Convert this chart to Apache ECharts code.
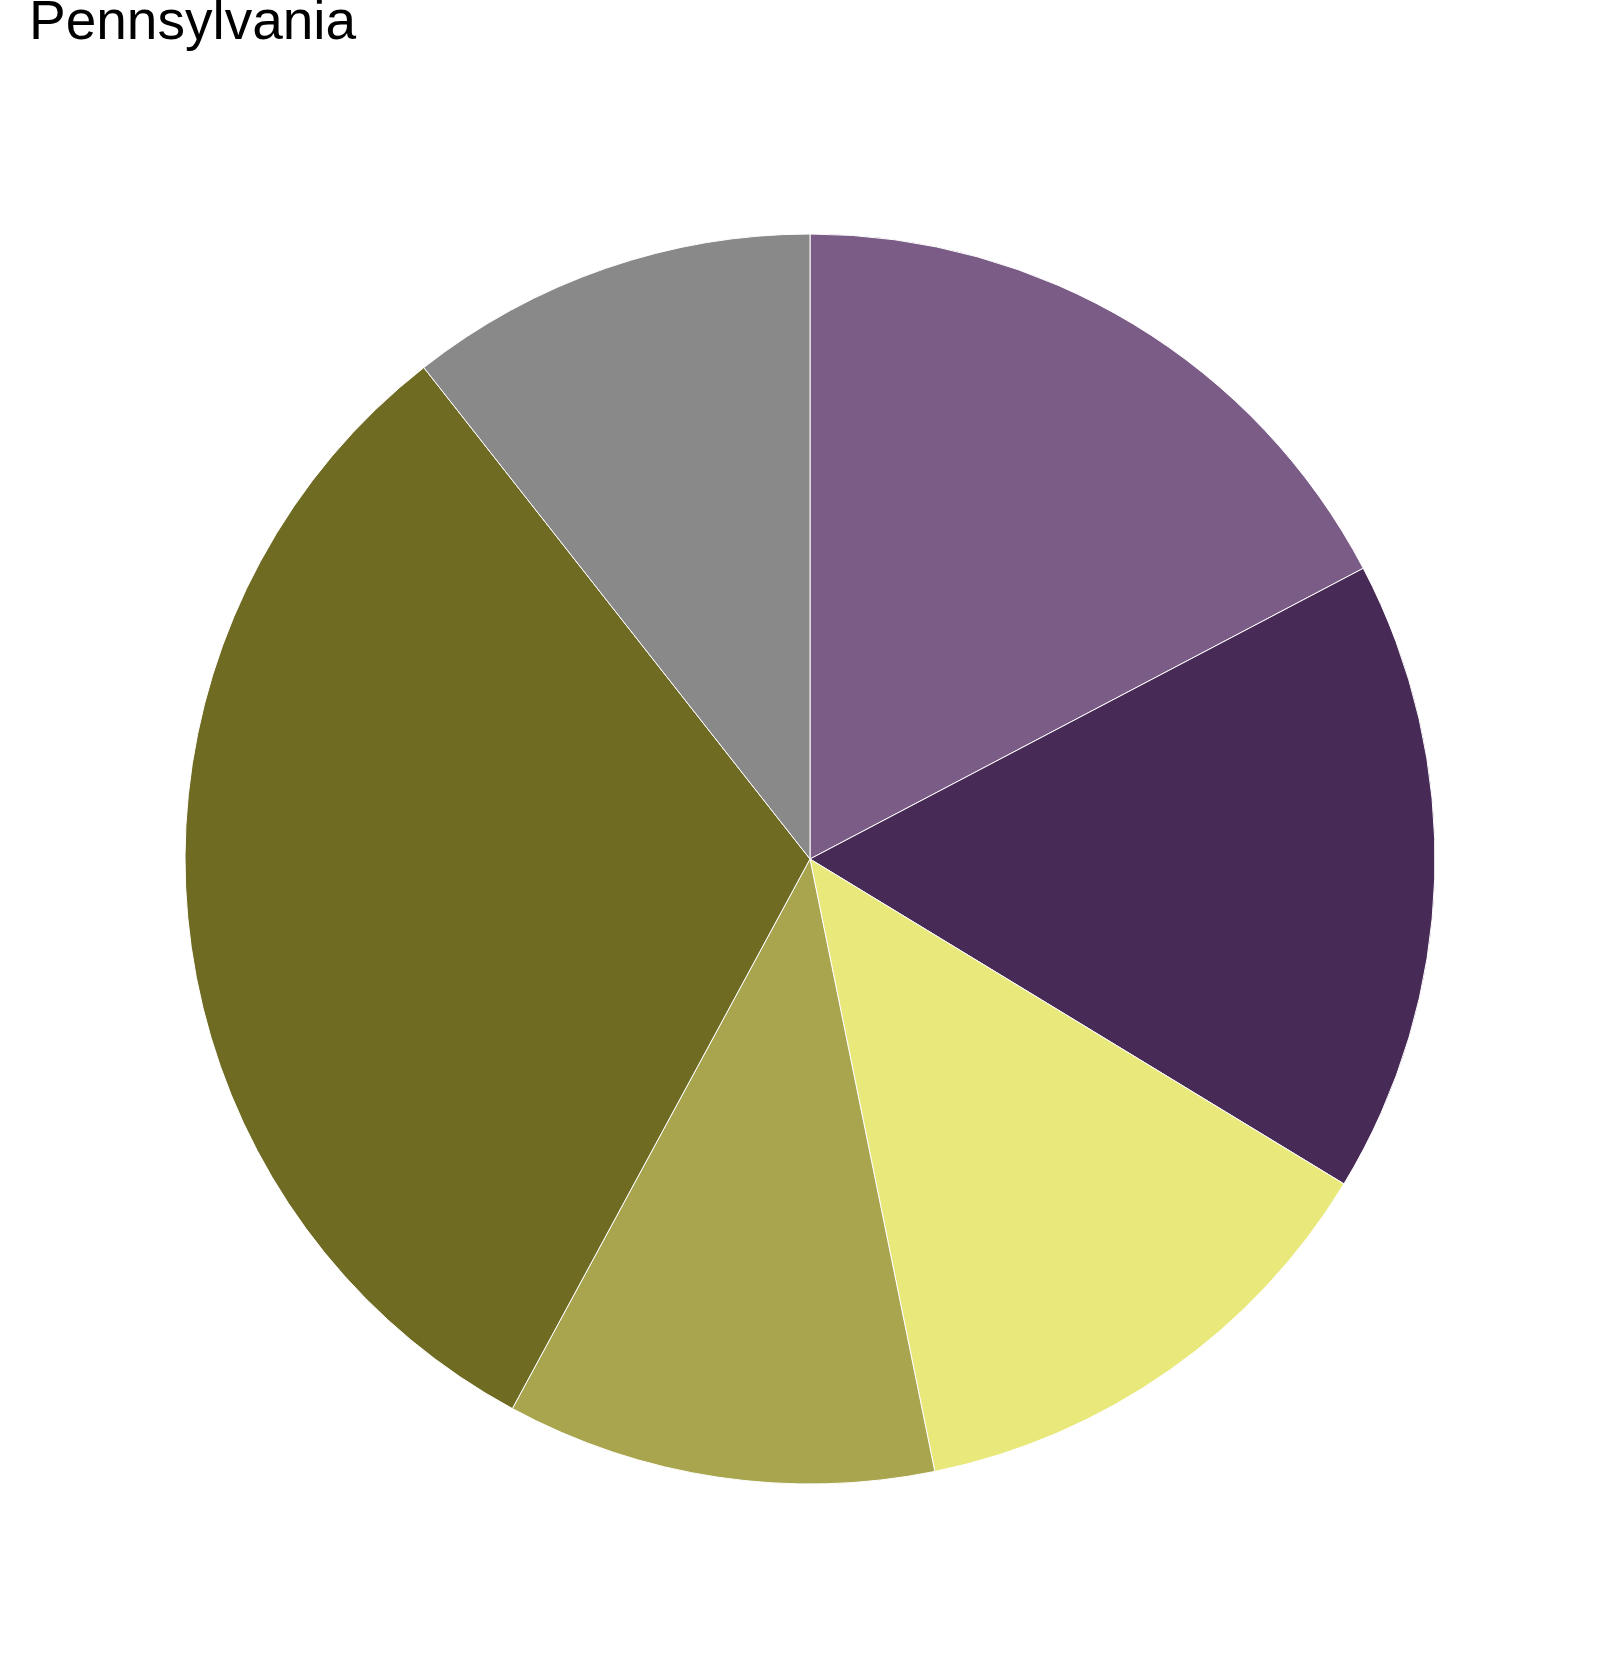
<!DOCTYPE html>
<html>
<head>
<meta charset="utf-8">
<script src="https://cdn.jsdelivr.net/npm/echarts@6/dist/echarts.min.js"></script>
<style>
html,body{margin:0;padding:0;background:#fff;}
#chart{width:1608px;height:1654px;}
</style>
</head>
<body>
<div id="chart"></div>
<script>
const titleText = "Pennsylvania";
const categories = ["Group 1", "Group 2", "Group 3", "Group 4", "Group 5", "Group 6"];
const values = [17.3, 16.4, 13.1, 11.1, 31.5, 10.6];
const colors = ["#7a5c87", "#482a56", "#e9e87a", "#a8a54e", "#706b23", "#898989"];

const chart = echarts.init(document.getElementById('chart'), null, {renderer: 'canvas'});
chart.setOption({
  animation: false,
  backgroundColor: '#ffffff',
  title: {
    text: titleText,
    left: 24,
    top: -9,
    textStyle: {fontFamily: 'Liberation Sans, Arial, sans-serif', fontSize: 55, fontWeight: 'normal', color: '#000000'}
  },
  series: [{
    type: 'pie',
    center: [810, 859],
    radius: [0, 625],
    startAngle: 90,
    clockwise: true,
    label: {show: false},
    labelLine: {show: false},
    itemStyle: {borderColor: '#ffffff', borderWidth: 1},
    emphasis: {disabled: true},
    data: categories.map((c, i) => ({name: c, value: values[i], itemStyle: {color: colors[i]}}))
  }]
});
</script>
</body>
</html>
